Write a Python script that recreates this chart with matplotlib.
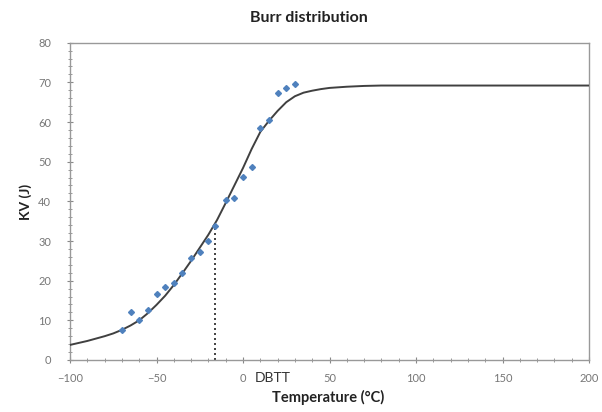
import matplotlib
matplotlib.use("Agg")
import matplotlib.pyplot as plt
from matplotlib.ticker import MultipleLocator

# Measured data points (temperature °C, KV J)
temp_pts = [-70, -65, -60, -55, -50, -45, -40, -35, -30, -25, -20, -16,
            -10, -5, 0, 5, 10, 15, 20, 25, 30]
kv_pts = [7.6, 12.2, 10.1, 12.6, 16.6, 18.3, 19.5, 21.9, 25.6, 27.2, 30.0, 33.8,
          40.3, 40.9, 46.2, 48.6, 58.4, 60.5, 67.4, 68.5, 69.6]

# Fitted Burr curve
curve_t = [-100, -95, -90, -85, -80, -75, -70, -65, -60, -55, -50, -45, -40,
           -35, -30, -25, -20, -15, -10, -5, 0, 5, 10, 15, 20, 25, 30, 35,
           40, 45, 50, 60, 70, 80, 100, 150, 200]
curve_kv = [3.8, 4.3, 4.8, 5.4, 6.0, 6.7, 7.6, 8.7, 10.0, 11.8, 13.9, 16.2, 18.9,
            21.9, 25.0, 28.3, 31.6, 35.3, 39.6, 44.0, 48.4, 53.2, 57.5, 60.3,
            62.8, 65.0, 66.5, 67.4, 67.9, 68.3, 68.6, 68.9, 69.1, 69.2, 69.2,
            69.2, 69.2]

dbtt_t = -16
dbtt_kv = 35.0

x_ticks = [-100, -50, 0, 50, 100, 150, 200]
y_ticks = [0, 10, 20, 30, 40, 50, 60, 70, 80]

fig = plt.figure(figsize=(6.02, 4.12), dpi=100)
ax = fig.add_axes([70/602, 52/412, 519/602, 317.3/412])

ax.plot(curve_t, curve_kv, color="#404040", lw=1.4, zorder=3)
ax.plot(temp_pts, kv_pts, linestyle="none", marker="D", markersize=3.0,
        color="#4F81BD", zorder=4)
ax.plot([dbtt_t, dbtt_t], [0, dbtt_kv], color="#222222", lw=1.2,
        linestyle=(0, (1.2, 1.8)), zorder=2)

ax.set_xlim(-100, 200)
ax.set_ylim(0, 80)
ax.set_xticks(x_ticks)
ax.set_yticks(y_ticks)
ax.xaxis.set_minor_locator(MultipleLocator(10))
ax.yaxis.set_minor_locator(MultipleLocator(2))
ax.tick_params(axis="both", which="major", direction="inout", length=5,
               width=0.8, color="#888888", labelsize=8, labelcolor="#777777")
ax.tick_params(axis="both", which="minor", direction="inout", length=3,
               width=0.6, color="#888888")
ax.tick_params(axis="x", pad=7)
ax.tick_params(axis="y", pad=11)
for lab in ax.get_xticklabels() + ax.get_yticklabels():
    lab.set_family("Lato")
for side in ["top", "right", "bottom", "left"]:
    ax.spines[side].set_color("#999999")
    ax.spines[side].set_linewidth(1.0)

ax.text(7, -2.9, "DBTT", fontsize=10, color="#333333", ha="left", va="top",
        family="Lato")

fig.text(309/602, 1 - 18/412, "Burr distribution", ha="center", va="center",
         fontsize=11.5, fontweight="bold", family="Lato", color="#222222")
fig.text(328/602, 1 - 397/412, "Temperature (°C)", ha="center", va="center",
         fontsize=10.5, fontweight="bold", family="Lato", color="#222222")
fig.text(26/602, 1 - 202/412, "KV (J)", ha="center", va="center",
         rotation=90, fontsize=10, fontweight="bold", family="Lato",
         color="#222222")

fig.savefig("out.png", dpi=100, facecolor="white")
